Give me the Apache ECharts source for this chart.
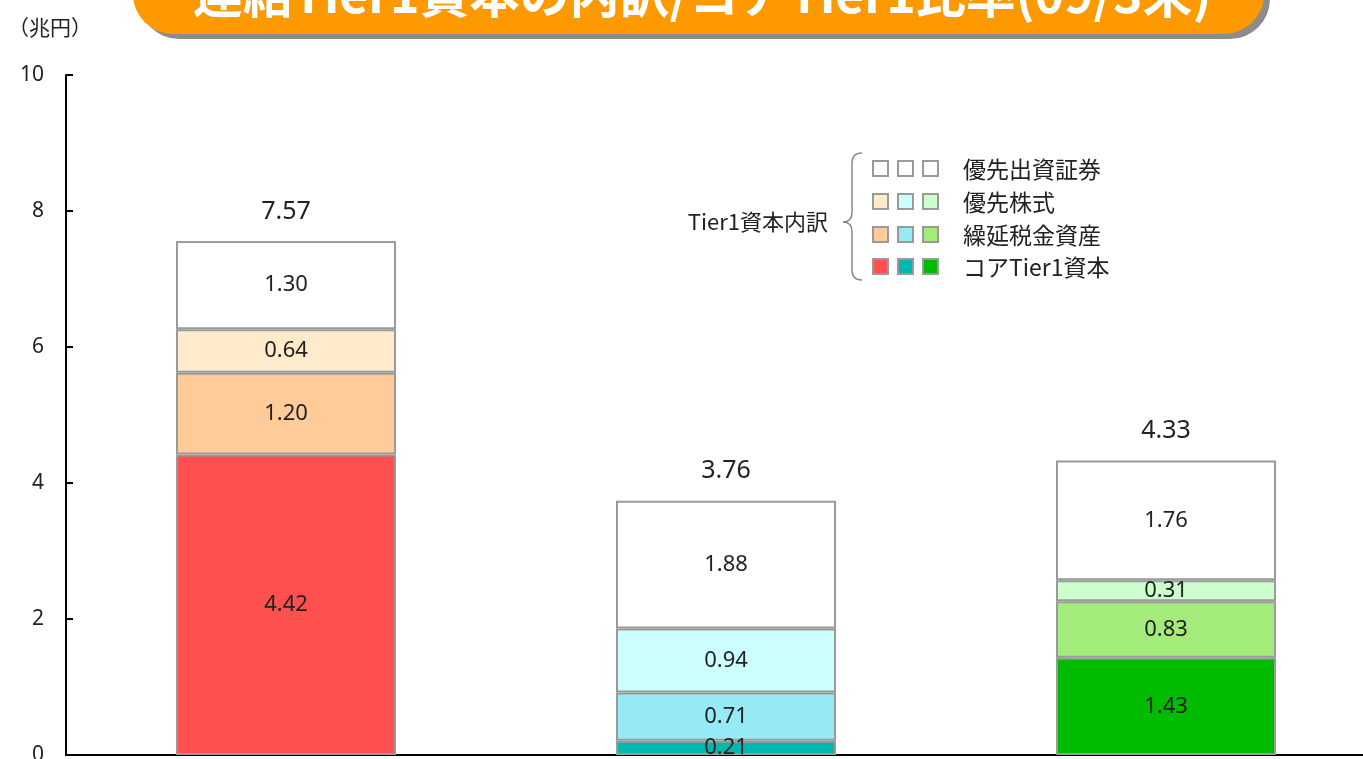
<!DOCTYPE html>
<html>
<head>
<meta charset="utf-8">
<script src="https://cdn.jsdelivr.net/npm/echarts@6/dist/echarts.min.js"></script>
<style>
html, body { margin: 0; padding: 0; background: #fff; }
#chart { width: 1363px; height: 759px; }
</style>
</head>
<body>
<div id="chart"></div>
<script>
var categories = ['A', 'B', 'C'];

/* stacked from bottom to top */
var coreTier1 = [4.42, 0.21, 1.43];
var deferredTax = [1.20, 0.71, 0.83];
var prefShares = [0.64, 0.94, 0.31];
var prefSecurities = [1.30, 1.88, 1.76];
var totals = ['7.57', '3.76', '4.33'];

var yTicks = [0, 2, 4, 6, 8, 10];

var coreColors = ['#FF5050', '#00B8B0', '#00BB00'];
var deferredColors = ['#FFCC99', '#95EAF5', '#A3EB7A'];
var prefShareColors = ['#FDEBCB', '#CCFFFF', '#CCFFCC'];
var prefSecColors = ['#FFFFFF', '#FFFFFF', '#FFFFFF'];

var legendNames = ['優先出資証券', '優先株式', '繰延税金資産', 'コアTier1資本'];
var legendColors = [prefSecColors, prefShareColors, deferredColors, coreColors];

var titleText = '連結Tier1資本の内訳/コアTier1比率(09/3末)';
var FONT = '"Noto Sans CJK JP", "Noto Sans", sans-serif';
var NUMFONT = '"Noto Sans", "Noto Sans CJK JP", sans-serif';

function makeSeries(name, values, colors) {
    return {
        name: name,
        type: 'bar',
        stack: 'tier1',
        barWidth: '50%',
        data: values.map(function (v, i) {
            return {
                value: v,
                itemStyle: { color: colors[i] }
            };
        }),
        itemStyle: { borderColor: '#9a9a9a', borderWidth: 2 },
        label: {
            show: true,
            position: 'inside',
            color: '#222',
            fontSize: 22,
            fontFamily: NUMFONT,
            formatter: function (p) { return p.value.toFixed(2); }
        }
    };
}

var seriesList = [
    makeSeries('コアTier1資本', coreTier1, coreColors),
    makeSeries('繰延税金資産', deferredTax, deferredColors),
    makeSeries('優先株式', prefShares, prefShareColors),
    makeSeries('優先出資証券', prefSecurities, prefSecColors)
];

/* totals above each bar */
seriesList.push({
    type: 'bar',
    stack: 'tier1',
    barWidth: '50%',
    silent: true,
    data: [0, 0, 0],
    itemStyle: { color: 'transparent', borderWidth: 0 },
    label: {
        show: true,
        position: 'top',
        distance: 17,
        color: '#222',
        fontSize: 25,
        fontFamily: NUMFONT,
        formatter: function (p) { return totals[p.dataIndex]; }
    }
});

/* legend built by hand: three swatches per row */
var graphics = [];
var sqX = [873, 898, 923];
var rowY = [161, 194, 227, 259];
legendNames.forEach(function (name, r) {
    for (var c = 0; c < 3; c++) {
        graphics.push({
            type: 'rect',
            shape: { x: sqX[c], y: rowY[r], width: 15, height: 15 },
            style: { fill: legendColors[r][c], stroke: '#9a9a9a', lineWidth: 2 }
        });
    }
    graphics.push({
        type: 'text',
        x: 963,
        y: rowY[r] + 8,
        style: {
            text: name, fill: '#222', font: '23px ' + FONT,
            verticalAlign: 'middle'
        }
    });
});
graphics.push({
    type: 'text',
    x: 828,
    y: 222,
    style: {
        text: 'Tier1資本内訳', fill: '#222', font: '22px ' + FONT,
        align: 'right', verticalAlign: 'middle'
    }
});

/* curly brace */
var braceStyle = { fill: null, stroke: '#888', lineWidth: 1.5 };
graphics.push({ type: 'bezierCurve', shape: { x1: 862, y1: 153, x2: 852, y2: 163, cpx1: 852, cpy1: 153 }, style: braceStyle });
graphics.push({ type: 'line', shape: { x1: 852, y1: 163, x2: 852, y2: 212 }, style: braceStyle });
graphics.push({ type: 'bezierCurve', shape: { x1: 852, y1: 212, x2: 843, y2: 222, cpx1: 852, cpy1: 222 }, style: braceStyle });
graphics.push({ type: 'bezierCurve', shape: { x1: 843, y1: 222, x2: 852, y2: 232, cpx1: 852, cpy1: 222 }, style: braceStyle });
graphics.push({ type: 'line', shape: { x1: 852, y1: 232, x2: 852, y2: 270 }, style: braceStyle });
graphics.push({ type: 'bezierCurve', shape: { x1: 852, y1: 270, x2: 862, y2: 280, cpx1: 852, cpy1: 280 }, style: braceStyle });

/* unit */
graphics.push({
    type: 'text',
    x: 8,
    y: 27,
    style: {
        text: '（兆円）', fill: '#222', font: '21px ' + FONT,
        verticalAlign: 'middle'
    }
});

/* title banner, cut off at the top */
graphics.push({
    type: 'rect',
    shape: { x: 139, y: -60, width: 1131, height: 99, r: 40 },
    style: { fill: '#8c8c8c' }
});
graphics.push({
    type: 'rect',
    shape: { x: 133, y: -65, width: 1131, height: 99, r: 40 },
    style: { fill: '#FF9900' }
});
graphics.push({
    type: 'text',
    x: 702,
    y: 19,
    style: {
        text: titleText, fill: '#fff', font: 'bold 50px ' + FONT,
        align: 'center', verticalAlign: 'bottom'
    }
});

var myChart = echarts.init(document.getElementById('chart'));

var option = {
    animation: false,
    grid: {
        left: 66,
        top: 75,
        width: 1320,
        bottom: 4,
        outerBoundsMode: 'none'
    },
    xAxis: {
        type: 'category',
        data: categories,
        axisLine: { lineStyle: { color: '#000', width: 2 } },
        axisTick: { show: false },
        axisLabel: { show: false }
    },
    yAxis: {
        type: 'value',
        min: yTicks[0],
        max: yTicks[yTicks.length - 1],
        interval: 2,
        splitLine: { show: false },
        axisLine: { show: true, lineStyle: { color: '#000', width: 2 } },
        axisTick: { show: true, inside: true, length: 7, lineStyle: { color: '#000', width: 2 } },
        axisLabel: { color: '#222', fontSize: 21, fontFamily: NUMFONT, margin: 22 }
    },
    series: seriesList,
    graphic: graphics
};

myChart.setOption(option);
</script>
</body>
</html>
